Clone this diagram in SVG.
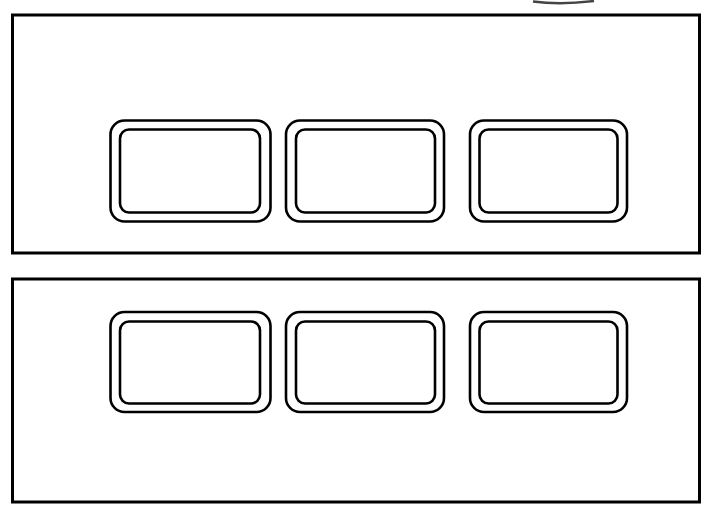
<svg xmlns="http://www.w3.org/2000/svg" width="704" height="508" viewBox="0 0 704 508">
<style>
.frame{fill:#fff;stroke:#000;stroke-width:3}
.outer{fill:none;stroke:#000;stroke-width:2.6}
.inner{fill:none;stroke:#000;stroke-width:2.6}
</style>
<rect width="704" height="508" fill="#fff"/>
<path d="M533,1.5 Q560,5 594,1" fill="none" stroke="#444" stroke-width="2.5"/>
<g id="panel-top">
<rect class="frame" x="12.5" y="15" width="687" height="238"/>
</g>
<g id="panel-bottom">
<rect class="frame" x="12.5" y="279" width="687" height="223"/>
</g>
<g id="box-t1"><rect class="outer" x="110.5" y="120.5" width="160" height="101" rx="14"/><rect class="inner" x="120" y="129.5" width="140" height="83" rx="9"/></g>
<g id="box-t2"><rect class="outer" x="286" y="120.5" width="158" height="101" rx="14"/><rect class="inner" x="296" y="129.5" width="139" height="83" rx="9"/></g>
<g id="box-t3"><rect class="outer" x="470" y="120.5" width="157" height="101" rx="14"/><rect class="inner" x="479.5" y="129.5" width="138" height="83" rx="9"/></g>
<g id="box-b1"><rect class="outer" x="110.5" y="312" width="160" height="100" rx="14"/><rect class="inner" x="120" y="321.5" width="140" height="82" rx="9"/></g>
<g id="box-b2"><rect class="outer" x="286" y="312" width="158" height="100" rx="14"/><rect class="inner" x="296" y="321.5" width="139" height="82" rx="9"/></g>
<g id="box-b3"><rect class="outer" x="470" y="312" width="157" height="100" rx="14"/><rect class="inner" x="479.5" y="321.5" width="138" height="82" rx="9"/></g>
<g id="connectors"></g>
</svg>
